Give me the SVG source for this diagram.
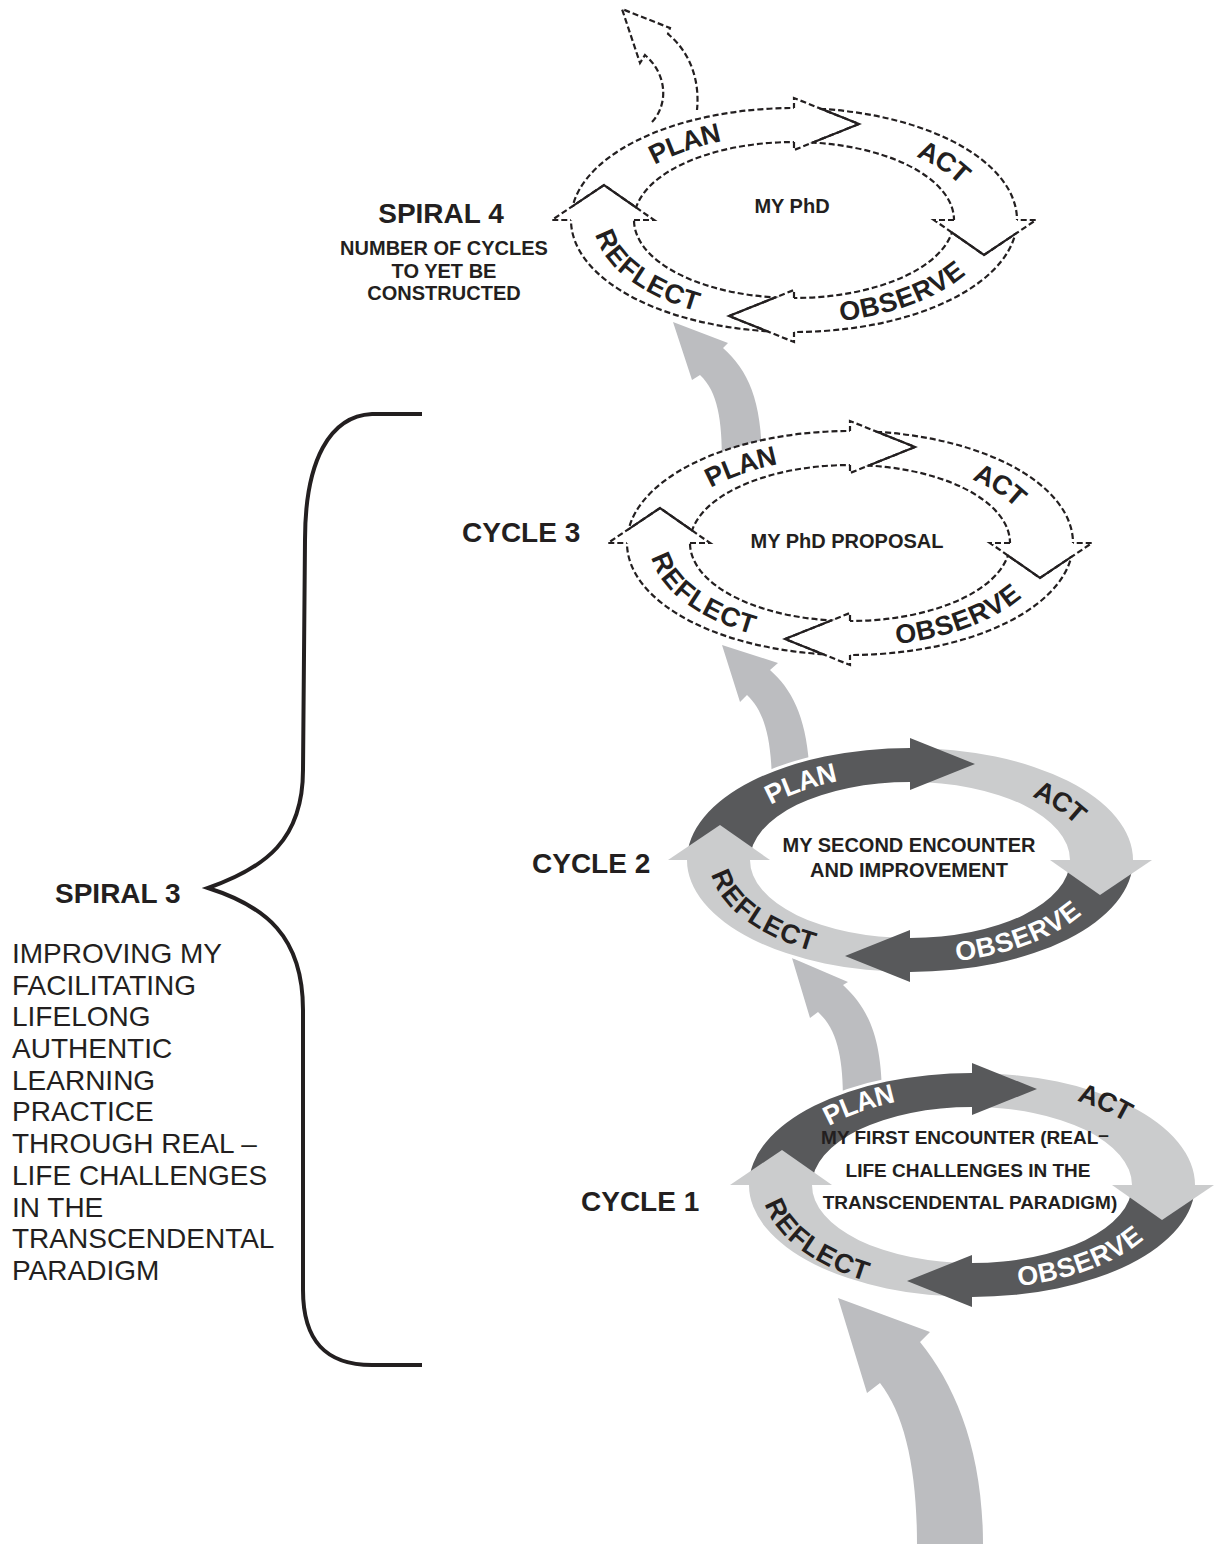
<svg xmlns="http://www.w3.org/2000/svg" width="1215" height="1544" viewBox="0 0 1215 1544">
<style>
  text { font-family: "Liberation Sans", Arial, Helvetica, sans-serif; fill: #231f20; }
  .title { font-size: 28px; font-weight: bold; }
  .sub { font-size: 20px; font-weight: bold; text-anchor: middle; }
  .body { font-size: 28px; }
  .inner { font-size: 20px; font-weight: bold; text-anchor: middle; }
  .inner-sm { font-size: 19px; font-weight: bold; text-anchor: middle; }
  .lbl { font-size: 27px; font-weight: bold; dominant-baseline: central; text-anchor: middle; }
  .on-dark { fill: #ffffff; }
  .dash { fill: none; stroke: #231f20; stroke-width: 2.2; stroke-dasharray: 6 3; }
  .dash-fill { fill: #ffffff; stroke: #231f20; stroke-width: 2.2; stroke-dasharray: 6 3; }
  .solid { fill: none; stroke: #231f20; stroke-width: 2.2; }
  .flow { fill: #bcbdc0; }
  .dark { fill: #58595b; }
  .light { fill: #cbcccd; }
  .brace { fill: none; stroke: #231f20; stroke-width: 4; stroke-linecap: butt; }
</style>
<defs>
  <!-- quarter bands of a cycle ring, centred on 0,0 -->
  <path id="band-plan" d="M -223 0 A 223 112 0 0 1 0 -112 L 0 -78 A 160 78 0 0 0 -160 0 Z"/>
  <path id="band-act" d="M 0 -112 A 223 112 0 0 1 223 0 L 160 0 A 160 78 0 0 0 0 -78 Z"/>
  <path id="band-obs" d="M 223 0 A 223 112 0 0 1 0 112 L 0 78 A 160 78 0 0 0 160 0 Z"/>
  <path id="band-ref" d="M 0 112 A 223 112 0 0 1 -223 0 L -160 0 A 160 78 0 0 0 0 78 Z"/>
  <!-- arrow heads at the end of each band -->
  <path id="head-plan" d="M 0 -78 L 0 -70 L 65 -96 L 0 -122 L 0 -112"/>
  <path id="head-act" d="M 160 0 L 140 0 L 190 35 L 242 0 L 223 0"/>
  <path id="head-obs" d="M 0 78 L 0 70 L -65 96 L 0 122 L 0 112"/>
  <path id="head-ref" d="M -160 0 L -140 0 L -190 -35 L -242 0 L -223 0"/>
  <!-- slanted head edges, drawn solid where they cross the band -->
  <path id="edge-plan" d="M 0 -70 L 65 -96 L 0 -122"/>
  <path id="edge-act" d="M 140 0 L 190 35 L 242 0"/>
  <path id="edge-obs" d="M 0 70 L -65 96 L 0 122"/>
  <path id="edge-ref" d="M -140 0 L -190 -35 L -242 0"/>
  <clipPath id="band-clip">
    <path clip-rule="evenodd" d="M -223 0 A 223 112 0 1 0 223 0 A 223 112 0 1 0 -223 0 Z M -160 0 A 160 78 0 1 0 160 0 A 160 78 0 1 0 -160 0 Z"/>
  </clipPath>
  <g id="halo">
    <ellipse rx="223" ry="112"/>
    <use href="#head-plan"/>
    <use href="#head-act"/>
    <use href="#head-obs"/>
    <use href="#head-ref"/>
  </g>
  <!-- label baselines along the middle of the ring -->
  <path id="tp-plan" d="M -185.0 -24.6 A 191.5 95 0 0 1 -16.7 -94.6"/>
  <path id="tp-act" d="M 80.9 -86.1 A 191.5 95 0 0 1 191.5 0"/>
  <path id="tp-obs" d="M 16.7 94.6 A 191.5 95 0 0 0 185.0 24.6"/>
  <path id="tp-ref" d="M -189.6 -13.2 A 191.5 95 0 0 0 -71.7 88.1"/>
  <!-- outer-lying baselines, used where the centre text is long -->
  <path id="tp-plan-out" d="M -191.3 -25.9 A 198 100 0 0 1 -17.3 -99.6"/>
  <path id="tp-act-out" d="M 54.3 -104.3 A 210 108 0 0 1 206.8 -18.8"/>
  <path id="tp-ref-out" d="M -199.0 -14.2 A 201 102 0 0 0 -75.3 94.6"/>
</defs>

<rect width="1215" height="1544" fill="#ffffff"/>

<!-- connectors: upward flow between cycles -->
<g id="connectors">
  <path id="flow-in" class="flow" d="M 917 1544 C 917 1470 905 1415 880 1383 L 867 1393 L 838 1298 L 930 1332 L 920 1342 C 955 1385 983 1450 983 1544 Z"/>
  <path id="flow-1-2" class="flow" d="M 843 1100 C 843 1060 838 1030 818 1012 L 810 1018 L 792 958 L 848 982 L 843 985 C 870 1010 882 1040 882 1100 Z"/>
  <path id="flow-2-3" class="flow" d="M 772 790 C 772 740 765 712 747 695 L 740 702 L 722 645 L 778 663 L 770 670 C 795 692 810 725 810 790 Z"/>
  <path id="flow-3-4" class="flow" d="M 722 462 C 722 420 718 392 700 375 L 692 380 L 673 322 L 728 343 L 723 348 C 748 370 762 400 762 462 Z"/>
  <path id="flow-out" class="dash-fill" d="M 652 122 C 668 105 668 75 645 55 L 640 63 L 622 9 L 670 28 L 668 34 C 690 52 700 80 697 110"/>
</g>

<!-- Spiral 4: my PhD (cycles still to come) -->
<g id="cycle-4" transform="translate(794 220)">
  <ellipse rx="223" ry="112" fill="#ffffff"/>
  <ellipse class="dash" rx="223" ry="112"/>
  <ellipse class="dash" rx="160" ry="78"/>
  <use href="#head-plan" class="dash-fill"/>
  <use href="#head-act" class="dash-fill"/>
  <use href="#head-obs" class="dash-fill"/>
  <use href="#head-ref" class="dash-fill"/>
  <g clip-path="url(#band-clip)">
    <use href="#edge-plan" class="solid"/>
    <use href="#edge-act" class="solid"/>
    <use href="#edge-obs" class="solid"/>
    <use href="#edge-ref" class="solid"/>
  </g>
  <text class="lbl"><textPath href="#tp-plan" startOffset="50%">PLAN</textPath></text>
  <text class="lbl"><textPath href="#tp-act" startOffset="50%">ACT</textPath></text>
  <text class="lbl"><textPath href="#tp-obs" startOffset="50%">OBSERVE</textPath></text>
  <text class="lbl"><textPath href="#tp-ref" startOffset="50%">REFLECT</textPath></text>
  <text class="inner" x="-2" y="-7">MY PhD</text>
</g>

<!-- Cycle 3: my PhD proposal -->
<g id="cycle-3" transform="translate(850 543)">
  <ellipse rx="223" ry="112" fill="#ffffff"/>
  <ellipse class="dash" rx="223" ry="112"/>
  <ellipse class="dash" rx="160" ry="78"/>
  <use href="#head-plan" class="dash-fill"/>
  <use href="#head-act" class="dash-fill"/>
  <use href="#head-obs" class="dash-fill"/>
  <use href="#head-ref" class="dash-fill"/>
  <g clip-path="url(#band-clip)">
    <use href="#edge-plan" class="solid"/>
    <use href="#edge-act" class="solid"/>
    <use href="#edge-obs" class="solid"/>
    <use href="#edge-ref" class="solid"/>
  </g>
  <text class="lbl"><textPath href="#tp-plan" startOffset="50%">PLAN</textPath></text>
  <text class="lbl"><textPath href="#tp-act" startOffset="50%">ACT</textPath></text>
  <text class="lbl"><textPath href="#tp-obs" startOffset="50%">OBSERVE</textPath></text>
  <text class="lbl"><textPath href="#tp-ref" startOffset="50%">REFLECT</textPath></text>
  <text class="inner" x="-3" y="5">MY PhD PROPOSAL</text>
</g>

<!-- Cycle 2: second encounter -->
<g id="cycle-2" transform="translate(910 860)">
  <use href="#halo" fill="#ffffff" stroke="#ffffff" stroke-width="6"/>
  <use href="#band-plan" class="dark"/>
  <use href="#band-act" class="light"/>
  <use href="#band-obs" class="dark"/>
  <use href="#band-ref" class="light"/>
  <use href="#head-plan" class="dark"/>
  <use href="#head-act" class="light"/>
  <use href="#head-obs" class="dark"/>
  <use href="#head-ref" class="light"/>
  <text class="lbl on-dark"><textPath href="#tp-plan" startOffset="50%">PLAN</textPath></text>
  <text class="lbl"><textPath href="#tp-act" startOffset="50%">ACT</textPath></text>
  <text class="lbl on-dark"><textPath href="#tp-obs" startOffset="50%">OBSERVE</textPath></text>
  <text class="lbl"><textPath href="#tp-ref" startOffset="50%">REFLECT</textPath></text>
  <text class="inner" x="-1" y="-8">MY SECOND ENCOUNTER</text>
  <text class="inner" x="-1" y="17">AND IMPROVEMENT</text>
</g>

<!-- Cycle 1: first encounter -->
<g id="cycle-1" transform="translate(972 1185)">
  <use href="#halo" fill="#ffffff" stroke="#ffffff" stroke-width="6"/>
  <use href="#band-plan" class="dark"/>
  <use href="#band-act" class="light"/>
  <use href="#band-obs" class="dark"/>
  <use href="#band-ref" class="light"/>
  <use href="#head-plan" class="dark"/>
  <use href="#head-act" class="light"/>
  <use href="#head-obs" class="dark"/>
  <use href="#head-ref" class="light"/>
  <text class="lbl on-dark"><textPath href="#tp-plan-out" startOffset="50%">PLAN</textPath></text>
  <text class="lbl"><textPath href="#tp-act-out" startOffset="45%">ACT</textPath></text>
  <text class="lbl on-dark"><textPath href="#tp-obs" startOffset="50%">OBSERVE</textPath></text>
  <text class="lbl"><textPath href="#tp-ref-out" startOffset="50%">REFLECT</textPath></text>
  <text class="inner-sm" x="-7" y="-41">MY FIRST ENCOUNTER (REAL<tspan dy="-3">–</tspan></text>
  <text class="inner-sm" x="-4" y="-8">LIFE CHALLENGES IN THE</text>
  <text class="inner-sm" x="-2" y="24">TRANSCENDENTAL PARADIGM)</text>
</g>

<!-- cycle names -->
<g id="cycle-names">
  <text class="title" x="462" y="542">CYCLE 3</text>
  <text class="title" x="532" y="873">CYCLE 2</text>
  <text class="title" x="581" y="1211">CYCLE 1</text>
</g>

<!-- Spiral 4 caption -->
<g id="spiral-4-label">
  <text class="title" x="441" y="223" text-anchor="middle">SPIRAL 4</text>
  <text class="sub" x="444" y="255">NUMBER OF CYCLES</text>
  <text class="sub" x="444" y="278">TO YET BE</text>
  <text class="sub" x="444" y="300">CONSTRUCTED</text>
</g>

<!-- Spiral 3: brace grouping cycles 1 to 3 -->
<g id="spiral-3">
  <path class="brace" d="M 422 414 L 372 414 C 330 416 305 460 305 540 L 303 770 C 303 840 265 868 208 888 C 265 906 303 936 303 1010 L 303 1290 C 303 1340 325 1365 372 1365 L 422 1365"/>
  <text class="title" x="55" y="903">SPIRAL 3</text>
  <text class="body" x="12" y="963">IMPROVING MY</text>
  <text class="body" x="12" y="995">FACILITATING</text>
  <text class="body" x="12" y="1026">LIFELONG</text>
  <text class="body" x="12" y="1058">AUTHENTIC</text>
  <text class="body" x="12" y="1090">LEARNING</text>
  <text class="body" x="12" y="1121">PRACTICE</text>
  <text class="body" x="12" y="1153">THROUGH REAL –</text>
  <text class="body" x="12" y="1185">LIFE CHALLENGES</text>
  <text class="body" x="12" y="1217">IN THE</text>
  <text class="body" x="12" y="1248">TRANSCENDENTAL</text>
  <text class="body" x="12" y="1280">PARADIGM</text>
</g>
</svg>
